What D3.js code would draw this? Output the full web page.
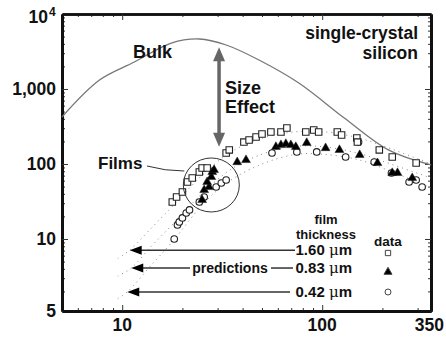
<!DOCTYPE html>
<html>
<head>
<meta charset="utf-8">
<script src="https://cdn.jsdelivr.net/npm/d3@7"></script>
<style>
  body { margin: 0; background: #fff; }
  text { font-family: "Liberation Sans", Arial, sans-serif; font-weight: bold; fill: #111; }
</style>
</head>
<body>
<div id="chart"></div>
<script>
// temperature (K) vs thermal conductivity (W/m/K)
const xTicks = [10, 100, 350];
const xTickLabels = ["10", "100", "350"];
const yBottom = 1.096; // bottom of the drawn axis, labelled "5" in the figure
const yTicks = [yBottom, 10, 100, 1000, 10000];
const yTickLabels = ["5", "10", "100", "1,000", "10"];

const bulkT = [5, 7.7, 11.5, 17.6, 24.3, 33.1, 48.3, 76.4, 129, 214, 350];
const bulkK = [424, 1318, 2290, 4100, 4640, 3860, 2436, 1202, 410, 154, 97];

const sqT = [17.8, 18.7, 20.0, 21.2, 22.4, 24.3, 25.1, 26.6, 33.1, 34.3, 40.6, 43.1, 46.7, 50, 55.4, 62.2, 66.6, 82.8, 90.7, 96, 119, 125, 149, 150, 193, 224, 295];
const sqK = [31.1, 36.3, 42.4, 57.5, 65.0, 78.2, 88.5, 88.5, 140, 154, 196, 209, 229, 251, 267, 267, 302, 267, 284, 267, 267, 244, 222, 196, 154, 124, 103];

const triT = [25.1, 25.7, 27.2, 26.6, 27.9, 28.2, 28.8, 37.6, 41.6, 58.7, 62.2, 65.8, 69.7, 73.8, 83.7, 104, 122, 154, 189, 224, 238, 282];
const triK = [33.1, 45.0, 49.3, 57.5, 67.1, 78.2, 83.2, 106, 113, 169, 179, 185, 179, 169, 191, 163, 154, 132, 103, 75.9, 75.9, 65.0];

const cirT = [18.2, 18.9, 19.3, 20.0, 20.9, 21.7, 24.3, 25.7, 29.5, 31.3, 33.1, 56.1, 74.7, 93.9, 131, 152, 182, 222, 272, 295, 316];
const cirK = [10.0, 15.4, 16.9, 19.1, 22.2, 24.4, 31.1, 36.3, 49.3, 55.8, 61.2, 140, 145, 145, 124, 196, 106, 75.9, 57.5, 61.2, 49.3];

// dotted prediction curves, one per film thickness
const predT160 = [9.5, 10.9, 14, 18, 25, 35, 50, 70, 100, 150, 220, 350];
const predK160 = [5.5, 7.1, 14, 28, 70, 145, 220, 265, 270, 225, 160, 100];
const predT083 = [9.5, 11.1, 14, 18, 25, 35, 50, 70, 100, 150, 220, 350];
const predK083 = [3.2, 4.1, 8, 16, 40, 85, 135, 170, 170, 140, 100, 65];
const predT042 = [9.5, 10.6, 14, 18, 25, 33, 50, 75, 100, 150, 220, 350];
const predK042 = [1.6, 1.97, 4.5, 9.5, 28, 55, 100, 135, 135, 115, 80, 48];

const legendLabels = ["1.60 ", "0.83 ", "0.42 "];

const width = 446, height = 337;
const mLeft = 62, mRight = 431, mTop = 14, mBottom = 311;

const svg = d3.select("#chart").append("svg")
    .attr("width", width)
    .attr("height", height);

svg.append("rect").attr("width", width).attr("height", height).attr("fill", "#fff");

const x = d3.scaleLog().domain([5, 350]).range([mLeft, mRight]);
const y = d3.scaleLog().domain([yBottom, 1e4]).range([mBottom, mTop]);

// minor tick values on log axes
const xMinor = [];
[1, 10, 100].forEach(d => { for (let k = 2; k < 10; k++) { const v = d * k; if (v > 5 && v < 350) xMinor.push(v); } });
const yMinor = [];
[1, 10, 100, 1000].forEach(d => { for (let k = 2; k < 10; k++) { const v = d * k; if (v > yBottom && v < 1e4) yMinor.push(v); } });

function styleAxis(g, w) {
    g.select(".domain").attr("stroke", "#111").attr("stroke-width", w);
    g.selectAll(".tick line").attr("stroke", "#333").attr("stroke-width", 1);
    g.selectAll("text").remove();
}

// bottom / top
svg.append("g").attr("transform", `translate(0,${mBottom})`)
    .call(d3.axisBottom(x).tickValues(xMinor).tickSizeInner(-3).tickSizeOuter(0))
    .call(g => styleAxis(g, 3));
svg.append("g").attr("transform", `translate(0,${mBottom})`)
    .call(d3.axisBottom(x).tickValues([10, 100]).tickSizeInner(-6).tickSizeOuter(0))
    .call(g => styleAxis(g, 3));
svg.append("g").attr("transform", `translate(0,${mTop})`)
    .call(d3.axisTop(x).tickValues(xMinor).tickSizeInner(-3).tickSizeOuter(0))
    .call(g => styleAxis(g, 2.5));
svg.append("g").attr("transform", `translate(0,${mTop})`)
    .call(d3.axisTop(x).tickValues([10, 100]).tickSizeInner(-6).tickSizeOuter(0))
    .call(g => styleAxis(g, 2.5));
// left / right
svg.append("g").attr("transform", `translate(${mLeft},0)`)
    .call(d3.axisLeft(y).tickValues(yMinor).tickSizeInner(-3).tickSizeOuter(0))
    .call(g => styleAxis(g, 3));
svg.append("g").attr("transform", `translate(${mLeft},0)`)
    .call(d3.axisLeft(y).tickValues([10, 100, 1000]).tickSizeInner(-6).tickSizeOuter(0))
    .call(g => styleAxis(g, 3));
svg.append("g").attr("transform", `translate(${mRight},0)`)
    .call(d3.axisRight(y).tickValues(yMinor).tickSizeInner(-3).tickSizeOuter(0))
    .call(g => styleAxis(g, 3));
svg.append("g").attr("transform", `translate(${mRight},0)`)
    .call(d3.axisRight(y).tickValues([10, 100, 1000]).tickSizeInner(-6).tickSizeOuter(0))
    .call(g => styleAxis(g, 3));

// tick labels
svg.append("g").selectAll("text")
    .data(xTicks)
    .enter().append("text")
    .attr("x", d => x(d))
    .attr("y", 331)
    .attr("text-anchor", (d, i) => i === xTicks.length - 1 ? "end" : "middle")
    .attr("dx", (d, i) => i === xTicks.length - 1 ? 13 : 0)
    .attr("font-size", 17.5)
    .text((d, i) => xTickLabels[i]);

const yl = svg.append("g").selectAll("text")
    .data(yTicks)
    .enter().append("text")
    .attr("x", 56)
    .attr("y", d => y(d) + 6)
    .attr("text-anchor", "end")
    .attr("font-size", 17.5)
    .text((d, i) => yTickLabels[i]);
yl.filter(d => d === 10000).attr("x", 48).attr("y", y(10000) + 9);
svg.append("text").attr("x", 49).attr("y", y(10000) + 2).attr("font-size", 12).text("4");

// bulk curve
const line = d3.line().x(d => x(d[0])).y(d => y(d[1])).curve(d3.curveCatmullRom);
svg.append("path")
    .datum(d3.zip(bulkT, bulkK))
    .attr("fill", "none")
    .attr("stroke", "#777")
    .attr("stroke-width", 1.3)
    .attr("d", line);

// prediction curves (dotted)
[[predT160, predK160], [predT083, predK083], [predT042, predK042]].forEach(([ts, ks]) => {
    svg.append("path")
        .datum(d3.zip(ts, ks))
        .attr("fill", "none")
        .attr("stroke", "#888")
        .attr("stroke-width", 1)
        .attr("stroke-dasharray", "1,4")
        .attr("d", line);
});

// data markers
const sym = {
    sq: d3.symbol().type(d3.symbolSquare).size(42),
    tri: d3.symbol().type(d3.symbolTriangle).size(34),
    cir: d3.symbol().type(d3.symbolCircle).size(34)
};
function drawPoints(ts, ks, kind) {
    svg.append("g").selectAll("path")
        .data(d3.zip(ts, ks))
        .enter().append("path")
        .attr("transform", d => `translate(${x(d[0])},${y(d[1])})`)
        .attr("d", sym[kind])
        .attr("fill", kind === "tri" ? "#000" : "#fff")
        .attr("stroke", "#222")
        .attr("stroke-width", kind === "tri" ? 0.5 : 1.1);
}
drawPoints(cirT, cirK, "cir");
drawPoints(sqT, sqK, "sq");
drawPoints(triT, triK, "tri");

// "Films" circle
svg.append("ellipse")
    .attr("cx", x(27.9)).attr("cy", y(52.5))
    .attr("rx", 28).attr("ry", 27)
    .attr("fill", "none").attr("stroke", "#333").attr("stroke-width", 1);
svg.append("path")
    .attr("d", `M147,166 Q165,171 ${x(27.9) - 27},171`)
    .attr("fill", "none").attr("stroke", "#333").attr("stroke-width", 1);
svg.append("text").attr("x", 98).attr("y", 169).attr("font-size", 17).text("Films");

// size effect double arrow
const ax = x(30.5);
const aTop = y(3600), aBot = y(170);
svg.append("line")
    .attr("x1", ax).attr("x2", ax).attr("y1", aTop + 10).attr("y2", aBot - 10)
    .attr("stroke", "#666").attr("stroke-width", 3.5);
svg.append("path").attr("d", `M${ax},${aTop} l-6,14 l12,0 z`).attr("fill", "#666");
svg.append("path").attr("d", `M${ax},${aBot} l-6,-14 l12,0 z`).attr("fill", "#666");
svg.append("text").attr("x", 225).attr("y", 94).attr("font-size", 18).text("Size");
svg.append("text").attr("x", 225).attr("y", 113).attr("font-size", 18).text("Effect");

svg.append("text").attr("x", 133).attr("y", 58).attr("font-size", 18).text("Bulk");
svg.append("text").attr("x", 418).attr("y", 39).attr("text-anchor", "end").attr("font-size", 17.5).text("single-crystal");
svg.append("text").attr("x", 418).attr("y", 59).attr("text-anchor", "end").attr("font-size", 17.5).text("silicon");

// legend: arrows pointing to the prediction curves
const tips = [[predT160[1], predK160[1]], [predT083[1], predK083[1]], [predT042[1], predK042[1]]];
const lineEnds = [295, 293, 290];
tips.forEach((t, i) => {
    const tx = x(t[0]), ty = y(t[1]);
    if (i === 1) {
        svg.append("line").attr("x1", tx + 10).attr("x2", 190).attr("y1", ty).attr("y2", ty)
            .attr("stroke", "#333").attr("stroke-width", 1.5);
        svg.append("line").attr("x1", 271).attr("x2", lineEnds[i]).attr("y1", ty).attr("y2", ty)
            .attr("stroke", "#333").attr("stroke-width", 1.5);
        svg.append("text").attr("x", 230).attr("y", ty + 5).attr("text-anchor", "middle")
            .attr("font-size", 14).text("predictions");
    } else {
        svg.append("line").attr("x1", tx + 10).attr("x2", lineEnds[i]).attr("y1", ty).attr("y2", ty)
            .attr("stroke", "#333").attr("stroke-width", 1.5);
    }
    svg.append("path").attr("d", `M${tx},${ty} l12,-4.5 l0,9 z`).attr("fill", "#000");

    const lt = svg.append("text").attr("x", 352).attr("y", ty + 5).attr("text-anchor", "end").attr("font-size", 15);
    lt.append("tspan").text(legendLabels[i]);
    lt.append("tspan").attr("font-weight", "normal").attr("font-family", "DejaVu Serif, serif").text("\u03bc");
    lt.append("tspan").text("m");
});
svg.append("text").attr("x", 326).attr("y", 224).attr("text-anchor", "middle").attr("font-size", 13).text("film");
svg.append("text").attr("x", 326).attr("y", 239).attr("text-anchor", "middle").attr("font-size", 13).text("thickness");
svg.append("text").attr("x", 388).attr("y", 246).attr("text-anchor", "middle").attr("font-size", 13.5).text("data");

const legendKinds = ["sq", "tri", "cir"];
const legendY = [253, 272, 292];
legendKinds.forEach((k, i) => {
    svg.append("path")
        .attr("transform", `translate(388,${legendY[i]})`)
        .attr("d", d3.symbol().type(k === "sq" ? d3.symbolSquare : k === "tri" ? d3.symbolTriangle : d3.symbolCircle).size(28))
        .attr("fill", k === "tri" ? "#000" : "#fff")
        .attr("stroke", "#444")
        .attr("stroke-width", 1);
});
</script>
</body>
</html>
